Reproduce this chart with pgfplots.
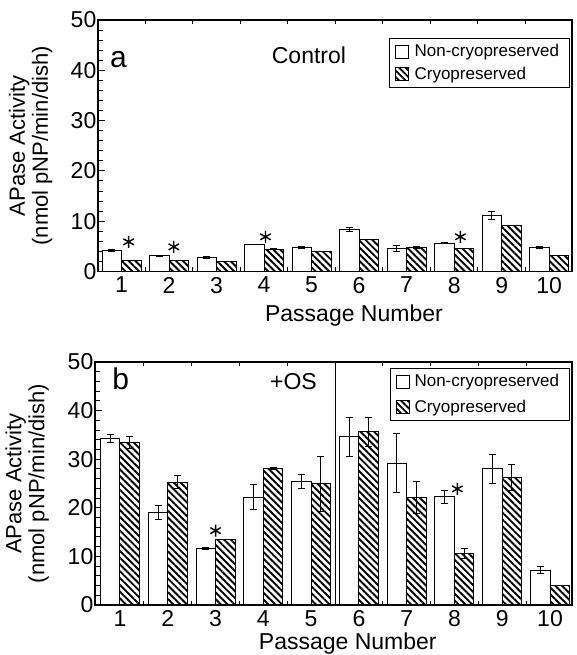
\documentclass[border=0pt]{standalone}
\usepackage{fontspec}
\setmainfont{Liberation Sans}
\usepackage{pgfplots}
\pgfplotsset{compat=1.18}
\usetikzlibrary{patterns.meta}
\newcommand\tickfont{\fontsize{23}{25}\selectfont}
\newcommand\labfont{\fontsize{22}{23}\selectfont}
\pgfplotsset{
  panel/.style={
    scale only axis,
    ymin=0, ymax=50,
    axis line style={line width=1.2pt},
    ytick={0,10,...,50},
    minor y tick num=4,
    xtick={1,...,10},
    minor xtick={1.5,2.5,...,9.5},
    major x tick style={draw=none},
    tick style={line width=1pt, black},
    tick align=inside,
    xtick pos=both, ytick pos=left,
    major tick length=7pt, minor tick length=4.5pt,
    /pgf/number format/assume math mode=true,
    ticklabel style={font=\tickfont},
    yticklabel style={inner sep=1.5pt},
    xticklabel style={yshift=-2pt},
    ylabel={APase Activity\\(nmol pNP/min/dish)},
    ylabel style={align=center, font=\labfont, at={(axis description cs:-0.142,0.5)}, anchor=center},
    xlabel={Passage Number},
    xlabel style={font=\fontsize{23}{25}\selectfont, anchor=base},
    legend style={draw=black, line width=1pt, font=\fontsize{17}{19}\selectfont,
      anchor=north east, row sep=5pt, inner xsep=5pt, inner ysep=4pt,
      nodes={inner xsep=5pt}},
    legend cell align=left,
  },
  errs/.style={
    error bars/y dir=both, error bars/y explicit,
    error bars/error bar style={line width=1pt, black, xshift=#1},
    error bars/error mark options={rotate=90, line width=1pt, mark size=3.5pt, black}},
  wbar/.style={ybar, bar width=19.5pt, bar shift=-9.75pt, fill=white, draw=black, line width=1pt, errs=-9.75pt},
  hbar/.style={ybar, bar width=19.5pt, bar shift=9.75pt, draw=black, line width=1pt,
    pattern={Lines[angle=-45,distance=4.8pt,line width=1.9pt]}, errs=9.75pt},
  wleg/.style={legend image code/.code={\draw[fill=white, line width=0.9pt] (0pt,-6.5pt) rectangle (13pt,6.5pt);}},
  hleg/.style={legend image code/.code={\draw[line width=0.9pt, pattern={Lines[angle=-45,distance=4.5pt,line width=1.8pt]}] (0pt,-6.5pt) rectangle (13pt,6.5pt);}},
  star/.style={only marks, mark=asterisk, mark size=6pt, mark options={line width=1.4pt, black}, forget plot},
}
\begin{document}
\begin{tikzpicture}[x=1pt,y=1pt]
\useasboundingbox (0,0) rectangle (576,655);
% ---------- panel a ----------
\begin{axis}[panel,
  at={(98pt,383.5pt)}, anchor=south west,
  width=474pt, height=251.5pt,
  xmin=0.505, xmax=10.48,
  xlabel style={at={(axis description cs:0.54,0)}, yshift=-50pt},
  legend style={at={(axis description cs:0.995,0.928)}},
]
\addplot[wbar, wleg] coordinates {
 (1,4.1) +- (0,0.2)  (2,3.15) +- (0,0.1) (3,2.75) +- (0,0.2) (4,5.4) +- (0,0)
 (5,4.8) +- (0,0.2)  (6,8.4) +- (0,0.4)  (7,4.6) +- (0,0.6)  (8,5.6) +- (0,0.1)
 (9,11.1) +- (0,0.8) (10,4.8) +- (0,0.2)};
\addlegendentry{Non-cryopreserved}
\addplot[hbar, hleg] coordinates {
 (1,2.15) +- (0,0) (2,2.15) +- (0,0) (3,2.0) +- (0,0) (4,4.4) +- (0,0.1)
 (5,3.9) +- (0,0)  (6,6.3) +- (0,0)  (7,4.7) +- (0,0.2) (8,4.5) +- (0,0)
 (9,9.2) +- (0,0)  (10,3.1) +- (0,0)};
\addlegendentry{Cryopreserved}
\addplot[star] coordinates {(1.15,5.9) (2.1,4.9) (4.03,6.9) (8.13,6.9)};
\node[font=\fontsize{30}{30}\selectfont, anchor=base west, inner sep=0pt] at (axis description cs:0.025,0.813) {a};
\node[font=\fontsize{23}{25}\selectfont, anchor=base, inner sep=0pt] at (axis description cs:0.445,0.829) {Control};
\end{axis}
% ---------- panel b ----------
\begin{axis}[panel,
  at={(95pt,50pt)}, anchor=south west,
  width=477pt, height=243pt,
  xmin=0.477, xmax=10.46,
  xlabel style={at={(axis description cs:0.53,0)}, yshift=-44pt},
  legend style={at={(axis description cs:0.995,0.975)}, row sep=8pt},
  extra x ticks={5.5}, extra x tick labels={},
  extra x tick style={grid=major, major grid style={black, line width=0.8pt}, major tick length=0pt},
]
\addplot[wbar, wleg] coordinates {
 (1,34.3) +- (0,0.8) (2,19.0) +- (0,1.5) (3,11.6) +- (0,0.2) (4,22.2) +- (0,2.5)
 (5,25.4) +- (0,1.4) (6,34.6) +- (0,4.0) (7,29.2) +- (0,6.0) (8,22.3) +- (0,1.35)
 (9,28.0) +- (0,3.0) (10,7.2) +- (0,0.8)};
\addlegendentry{Non-cryopreserved}
\addplot[hbar, hleg] coordinates {
 (1,33.4) +- (0,1.2) (2,25.3) +- (0,1.3) (3,13.5) +- (0,0) (4,28.1) +- (0,0.2)
 (5,24.9) +- (0,5.6) (6,35.6) +- (0,2.9) (7,22.2) +- (0,3.3) (8,10.6) +- (0,0.95)
 (9,26.2) +- (0,2.7) (10,4.0) +- (0,0)};
\addlegendentry{Cryopreserved}
\addplot[star] coordinates {(3.0,15.3) (8.06,23.9)};
\node[font=\fontsize{30}{30}\selectfont, anchor=base west, inner sep=0pt] at (axis description cs:0.036,0.885) {b};
\node[font=\fontsize{23}{25}\selectfont, anchor=base, inner sep=0pt] at (axis description cs:0.416,0.885) {+OS};
\end{axis}
\end{tikzpicture}
\end{document}
